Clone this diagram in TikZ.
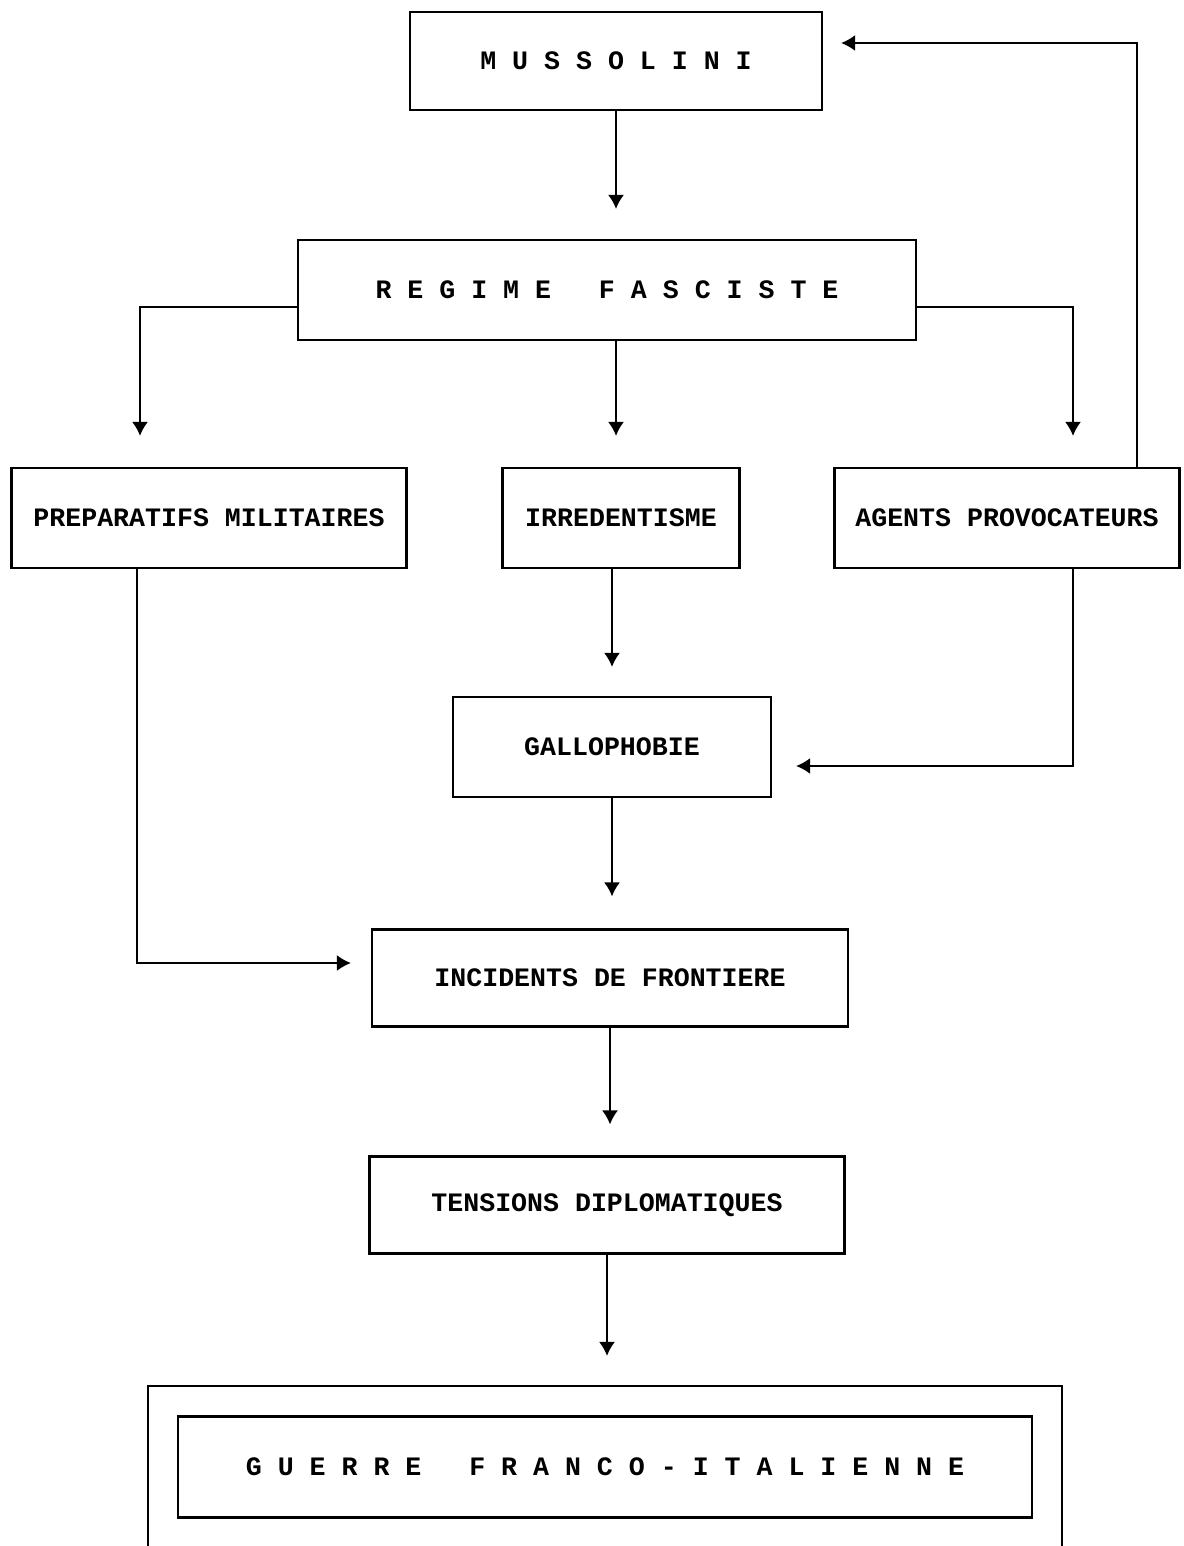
\documentclass[tikz,border=0pt]{standalone}
\usepackage{fontspec}
\setmonofont{Liberation Mono}
\usetikzlibrary{arrows.meta}

\tikzset{
  box/.style={draw, line width=1.1pt, inner sep=0pt, minimum height=50pt,
    font=\ttfamily\bfseries\fontsize{13.3}{16}\selectfont},
  arr/.style={line width=0.9pt, -{Latex[length=7pt,width=8pt]}},
}

\begin{document}
\begin{tikzpicture}[x=0.5pt,y=-0.5pt]
  \useasboundingbox (0,0) rectangle (1183,1546);

  % Boxes
  \node[box, minimum width=206pt, minimum height=49pt] (mus) at (616,61) {M U S S O L I N I};
  \node[box, minimum width=309pt] (reg) at (607,290) {R E G I M E~~~F A S C I S T E};
  \node[box, minimum width=197.5pt] (prep) at (209,518) {PREPARATIFS MILITAIRES};
  \node[box, minimum width=118.5pt] (irr) at (621,518) {IRREDENTISME};
  \node[box, minimum width=172.5pt] (agents) at (1007,518) {AGENTS PROVOCATEURS};
  \node[box, minimum width=159pt] (gallo) at (612,747) {GALLOPHOBIE};
  \node[box, minimum width=238pt, minimum height=48.5pt] (inc) at (610,978) {INCIDENTS DE FRONTIERE};
  \node[box, minimum width=237.5pt, minimum height=48.5pt] (tens) at (607,1205) {TENSIONS DIPLOMATIQUES};
  \node[box, minimum width=427pt, minimum height=50.5pt] (guerre) at (605,1467) {G U E R R E~~~F R A N C O - I T A L I E N N E};
  \node[draw, line width=1.1pt, minimum width=457pt, minimum height=86pt] (frame) at (605,1472) {};

  % Connectors
  \draw[arr, shorten >=15pt] (mus.south) -- (mus.south |- reg.north);
  \draw[arr, shorten >=15.5pt] ([yshift=-8.5pt]reg.west) -| ([xshift=-34.5pt]prep.north);
  \draw[arr, shorten >=15.5pt] (reg.south -| mus.south) -- (irr.north -| mus.south);
  \draw[arr, shorten >=15.5pt] ([yshift=-8.5pt]reg.east) -| ([xshift=33pt]agents.north);
  \draw[arr, shorten >=9pt] ([xshift=65pt]agents.north) |- ([yshift=9pt]mus.east);
  \draw[arr, shorten >=14.5pt] (irr.south -| gallo.north) -- (gallo.north);
  \draw[arr, shorten >=12pt] ([xshift=33pt]agents.south) |- ([yshift=-9.5pt]gallo.east);
  \draw[arr, shorten >=16pt] (gallo.south) -- (gallo.south |- inc.north);
  \draw[arr, shorten >=10pt] ([xshift=-36pt]prep.south) |- ([yshift=7.5pt]inc.west);
  \draw[arr, shorten >=15.5pt] (inc.south) -- (inc.south |- tens.north);
  \draw[arr, shorten >=14.5pt] (tens.south) -- (tens.south |- frame.north);
\end{tikzpicture}
\end{document}
